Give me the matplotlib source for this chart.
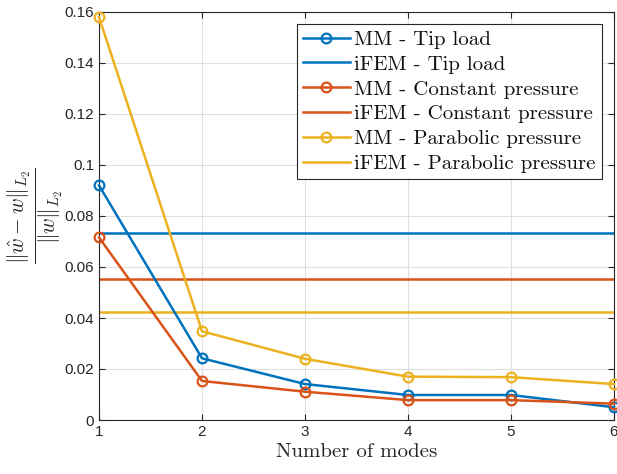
import matplotlib
matplotlib.use("Agg")
import matplotlib.pyplot as plt

plt.rcParams['mathtext.fontset'] = 'cm'
plt.rcParams['font.family'] = ['Liberation Sans', 'DejaVu Sans']

modes = [1, 2, 3, 4, 5, 6]
mm_tip = [0.092, 0.0242, 0.0141, 0.0098, 0.0098, 0.0050]
mm_const = [0.0716, 0.0153, 0.0111, 0.0078, 0.0078, 0.0064]
mm_para = [0.158, 0.0348, 0.0240, 0.0170, 0.0168, 0.0141]
ifem_tip = 0.0735
ifem_const = 0.0552
ifem_para = 0.0422

c_blue = '#0072BD'
c_red = '#D95319'
c_yel = '#EDB120'

fig = plt.figure(figsize=(6.17, 4.74), dpi=100)
ax = fig.add_axes([99/617, 1-420/474, (614-99)/617, (420-12)/474])

lw = 1.8
ms = 7
ax.plot(modes, mm_tip, '-o', color=c_blue, lw=lw, mfc='none', ms=ms, mew=1.6,
        label='MM - Tip load', clip_on=False, zorder=4)
ax.plot([modes[0], modes[-1]], [ifem_tip, ifem_tip], '-', color=c_blue, lw=lw,
        label='iFEM - Tip load')
ax.plot(modes, mm_const, '-o', color=c_red, lw=lw, mfc='none', ms=ms, mew=1.6,
        label='MM - Constant pressure', clip_on=False, zorder=4)
ax.plot([modes[0], modes[-1]], [ifem_const, ifem_const], '-', color=c_red, lw=lw,
        label='iFEM - Constant pressure')
ax.plot(modes, mm_para, '-o', color=c_yel, lw=lw, mfc='none', ms=ms, mew=1.6,
        label='MM - Parabolic pressure', clip_on=False, zorder=4)
ax.plot([modes[0], modes[-1]], [ifem_para, ifem_para], '-', color=c_yel, lw=lw,
        label='iFEM - Parabolic pressure')

ax.set_xlim(1, 6)
ax.set_ylim(0, 0.16)
ax.set_xticks(modes)
ax.set_yticks([0, 0.02, 0.04, 0.06, 0.08, 0.1, 0.12, 0.14, 0.16])
ax.set_yticklabels(['0', '0.02', '0.04', '0.06', '0.08', '0.1', '0.12', '0.14', '0.16'])
ax.tick_params(labelsize=11, colors='#262626', direction='in', length=4,
               top=True, right=True)
ax.grid(True, color='#dfdfdf', lw=0.8)
ax.set_axisbelow(True)
for s in ax.spines.values():
    s.set_color('#262626')
    s.set_linewidth(0.8)

ax.set_xlabel('Number of modes', fontsize=15, color='#262626', labelpad=3,
              fontfamily='cmr10')
ax.set_ylabel(r'$\frac{\Vert\hat{w}-w\Vert_{L_2}}{\Vert w\Vert_{L_2}}$', fontsize=22,
              color='#262626', labelpad=0)

leg = ax.legend(loc='upper right', prop={'family': 'cmr10', 'size': 15},
                frameon=True, fancybox=False,
                edgecolor='#262626', framealpha=1, borderpad=0.3, labelspacing=0.3,
                handlelength=2.26, handletextpad=0.2, borderaxespad=0.58)
leg.get_frame().set_linewidth(0.8)
for t in leg.get_texts():
    t.set_color('#111111')

fig.savefig('out.png', dpi=100)
